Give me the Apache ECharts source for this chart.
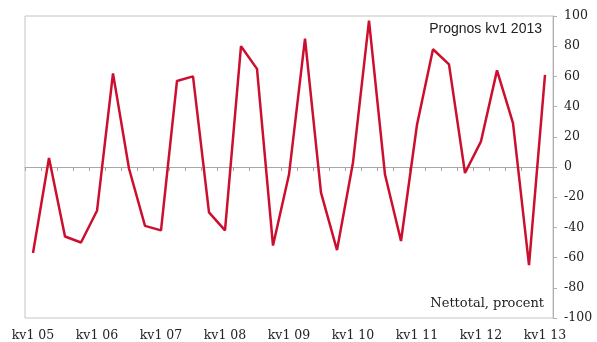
<!DOCTYPE html>
<html><head><meta charset="utf-8">
<script src="https://cdn.jsdelivr.net/npm/echarts@6/dist/echarts.min.js"></script>
<style>html,body{margin:0;padding:0;background:#fff}#c{width:597px;height:342px}</style>
</head><body><div id="c"></div>
<script>
const categories = ["kv1 05","kv2 05","kv3 05","kv4 05","kv1 06","kv2 06","kv3 06","kv4 06","kv1 07","kv2 07","kv3 07","kv4 07","kv1 08","kv2 08","kv3 08","kv4 08","kv1 09","kv2 09","kv3 09","kv4 09","kv1 10","kv2 10","kv3 10","kv4 10","kv1 11","kv2 11","kv3 11","kv4 11","kv1 12","kv2 12","kv3 12","kv4 12","kv1 13"];
const values = [-57, 6, -46, -50, -29, 62, -1, -39, -42, 57, 60, -30, -42, 80, 65, -52, -5, 85, -17, -55, 3, 97, -5, -49, 28, 78, 68, -4, 17, 64, 29, -65, 61];
const yTicks = {min: -100, max: 100, step: 20};
const titleText = "Prognos kv1 2013";
const unitText = "Nettotal, procent";

const serif = "DejaVu Serif";
const chart = echarts.init(document.getElementById('c'), null, {renderer: 'canvas'});
chart.setOption({
  animation: false,
  grid: {left: 25, right: 44, top: 16, bottom: 24, show: true, borderColor: '#c4c4c4', borderWidth: 1, backgroundColor: 'transparent'},
  xAxis: [{
    type: 'category', data: categories, boundaryGap: true, position: 'bottom',
    axisLine: {show: false}, axisTick: {show: false},
    axisLabel: {interval: 3, margin: 11, color: '#222', fontFamily: serif, fontSize: 12.5}
  }, {
    type: 'category', data: categories, boundaryGap: true, position: 'bottom',
    axisLine: {show: true, onZero: true, onZeroAxisIndex: 0, lineStyle: {color: '#a8a8a8', width: 1}},
    axisTick: {show: true, interval: 0, length: 4, lineStyle: {color: '#a8a8a8'}},
    axisLabel: {show: false}
  }],
  yAxis: {
    type: 'value', position: 'right', min: yTicks.min, max: yTicks.max, interval: yTicks.step,
    axisLine: {show: true, lineStyle: {color: '#b0b0b0'}},
    axisTick: {show: true, length: 4, lineStyle: {color: '#b0b0b0'}},
    splitLine: {show: false},
    axisLabel: {margin: 11, color: '#222', fontFamily: serif, fontSize: 12.5}
  },
  series: [{
    type: 'line', data: values, xAxisIndex: 0, symbol: 'none',
    lineStyle: {color: '#cc0f2f', width: 2.5}
  }],
  graphic: [
    {type: 'text', right: 55, top: 22, style: {text: titleText, fill: '#222', font: '14px "Liberation Sans"', textAlign: 'right'}},
    {type: 'text', right: 53, top: 297, style: {text: unitText, fill: '#222', font: '13px "DejaVu Serif"', textAlign: 'right'}}
  ]
});
</script></body></html>
